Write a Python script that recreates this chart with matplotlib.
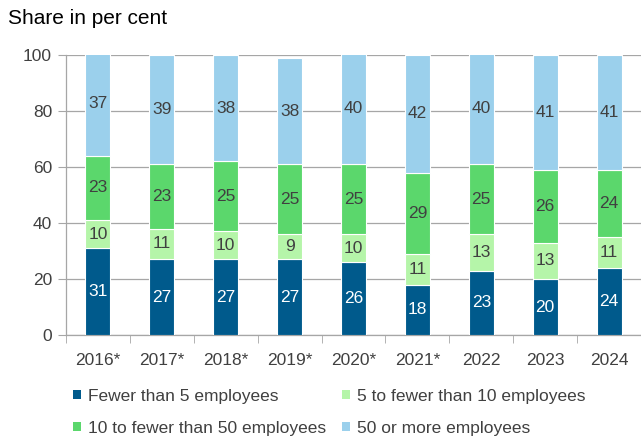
import numpy as np
import matplotlib.pyplot as plt
from matplotlib.patches import Patch

plt.rcParams['font.family'] = ['Liberation Sans', 'DejaVu Sans']

# Shares by company size, in per cent
years = ["2016*", "2017*", "2018*", "2019*", "2020*", "2021*", "2022", "2023", "2024"]
lt5 = [31, 27, 27, 27, 26, 18, 23, 20, 24]
from5to10 = [10, 11, 10, 9, 10, 11, 13, 13, 11]
from10to50 = [23, 23, 25, 25, 25, 29, 25, 26, 24]
ge50 = [37, 39, 38, 38, 40, 42, 40, 41, 41]

series_names = ["Fewer than 5 employees", "5 to fewer than 10 employees",
                "10 to fewer than 50 employees", "50 or more employees"]
colors = ["#005a8c", "#b5f5a9", "#5bd76c", "#9bd0ec"]
label_colors = ["white", "#404040", "#404040", "#404040"]

fig = plt.figure(figsize=(6.41, 4.38), dpi=100)
ax = fig.add_axes([66 / 641, 1 - 335 / 438, 1 - 66 / 641, 280 / 438])

x = np.arange(len(years))
bottom = np.zeros(len(years))
for vals, c, lc in zip([lt5, from5to10, from10to50, ge50], colors, label_colors):
    vals = np.array(vals, dtype=float)
    ax.bar(x, vals, 0.39, bottom=bottom, color=c, edgecolor="white",
           linewidth=0.8, zorder=3)
    for xi, b, v in zip(x, bottom, vals):
        ax.text(xi, b + v / 2, f"{int(v)}", ha="center", va="center",
                fontsize=12.5, color=lc, zorder=4)
    bottom += vals

ax.set_ylim(0, 100)
ax.set_xlim(-0.5, 8.43)
ax.set_yticks(range(0, 101, 20))
ax.yaxis.grid(True, color="#a6a6a6", linewidth=0.9, zorder=0)
ax.set_xticks(x)
ax.set_xticklabels(years)
ax.set_xticks(np.arange(-0.5, 9, 1), minor=True)
ax.tick_params(axis="x", which="major", length=0, pad=13, labelsize=12.5, colors="#404040")
ax.tick_params(axis="x", which="minor", length=6, color="#a6a6a6")
ax.tick_params(axis="y", length=6, color="#a6a6a6", labelsize=12.5, labelcolor="#404040", pad=4)
for s in ["top", "right"]:
    ax.spines[s].set_visible(False)
ax.spines["left"].set_color("#a6a6a6")
ax.spines["bottom"].set_color("#a6a6a6")
ax.spines["left"].set_linewidth(0.9)
ax.spines["bottom"].set_linewidth(0.9)

fig.text(8 / 641, 1 - 18 / 438, "Share in per cent", fontsize=15, va="center",
         ha="left", color="black")

# legend fills column-wise, so order entries to read row by row
order = [0, 2, 1, 3]
handles = [Patch(facecolor=colors[i], edgecolor="none") for i in order]
labels = [series_names[i] for i in order]
fig.legend(handles, labels, loc="upper left", bbox_to_anchor=(73 / 641, 1 - 389 / 438),
           ncol=2, frameon=False, fontsize=12.5, handlelength=0.45, handleheight=0.45,
           handletextpad=0.4, columnspacing=0.95, labelspacing=0.98,
           labelcolor="#404040", borderaxespad=0, borderpad=0)

fig.savefig("out.png", dpi=100)
